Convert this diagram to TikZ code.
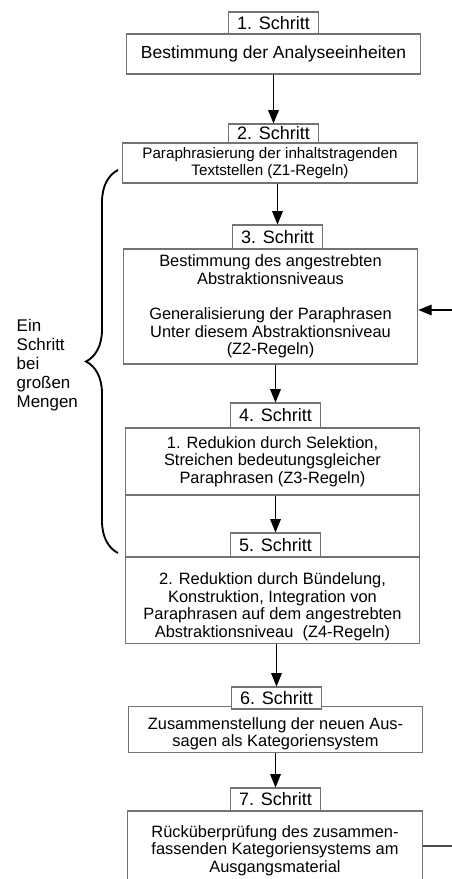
\documentclass[tikz,border=0pt]{standalone}
\usepackage{fontspec}
\setmainfont{Liberation Sans}
\usetikzlibrary{arrows.meta,decorations.pathreplacing}

\begin{document}
\begin{tikzpicture}[x=0.75pt, y=-0.75pt,
  every node/.style={font=\fontsize{12.3}{13.2}\selectfont},
  stepbox/.style={draw=black!55, line width=0.8pt, fill=white, rectangle, minimum width=68pt, inner sep=0pt, font=\fontsize{13.5}{15}\selectfont},
  contentbox/.style={draw=black!55, line width=0.8pt, rectangle, minimum width=221pt, align=center, inner sep=2pt},
  flow/.style={-{Triangle[length=10pt, width=8pt]}, line width=0.8pt}]
\useasboundingbox (0,0) rectangle (451,879);

% Boxes - vertical flow
\node[contentbox, minimum height=30pt, font=\fontsize{13.1}{14}\selectfont] (b1) at (273.5,54) {Bestimmung der Analyseeinheiten};
\node[contentbox, minimum height=30pt, font=\fontsize{11.4}{12.8}\selectfont] (b2) at (270,163) {Paraphrasierung der inhaltstragenden\\Textstellen (Z1-Regeln)};
\node[contentbox, minimum height=86.25pt] (b3) at (270.5,306.5) {Bestimmung des angestrebten\\Abstraktionsniveaus\\[\baselineskip]Generalisierung der Paraphrasen\\Unter diesem Abstraktionsniveau\\(Z2-Regeln)};
\node[contentbox, minimum height=50.25pt] (b4) at (272.5,461.5) {1. Redukion durch Selektion,\\Streichen bedeutungsgleicher\\Paraphrasen (Z3-Regeln)};
\node[contentbox, minimum height=46.5pt] (gap) at (272.5,526) {};
\node[contentbox, minimum height=64.5pt] (b5) at (272.5,600) {\rule{0pt}{19pt}2. Reduktion durch Bündelung,\\Konstruktion, Integration von\\Paraphrasen auf dem angestrebten\\Abstraktionsniveau~ (Z4-Regeln)};
\node[contentbox, minimum height=30.75pt] (b6) at (275.5,729.5) {\rule{0pt}{15pt}Zusammenstellung der neuen Aus-\\sagen als Kategoriensystem};
\node[contentbox, minimum height=59.25pt] (b7) at (275,850.5) {Rücküberprüfung des zusammen-\\fassenden Kategoriensystems am\\Ausgangsmaterial};

% Step labels
\node[stepbox, minimum height=16.5pt] (s1) at (273.5,23) {1. Schritt};
\node[stepbox, minimum height=14.25pt] (s2) at (273.5,133.5) {2. Schritt};
\node[stepbox, minimum height=18pt] (s3) at (277.5,237) {3. Schritt};
\node[stepbox, minimum height=18.75pt] (s4) at (275.5,415.5) {4. Schritt};
\node[stepbox, minimum height=18pt] (s5) at (275.5,545) {5. Schritt};
\node[stepbox, minimum height=16.5pt] (s6) at (276.5,698) {6. Schritt};
\node[stepbox, minimum height=17.25pt] (s7) at (275.5,799.5) {7. Schritt};

% Arrows
\draw[flow] (b1.south -| s2) -- (s2.north);
\draw[flow] (b2.south -| s3) -- (s3.north);
\draw[flow] (b3.south -| s4) -- (s4.north);
\draw[flow] (b4.south -| s5) -- (s5.north);
\draw[flow] (b5.south -| s6) -- (s6.north);
\draw[flow] (b6.south -| s7) -- (s7.north);

% Feedback loop, right edge
\coordinate (feedin) at (455,310);
\coordinate (feedout) at (455,846);
\draw[flow] (feedin) -- (feedin -| b3.east);
\draw[line width=0.8pt, black!70] (b7.east |- feedout) -- (feedout);

% Brace for steps 2 to 5
\draw[decorate, decoration={brace, amplitude=24pt}, line width=1.4pt] (118,553) -- (118,170);
\node[anchor=west, align=left, font=\fontsize{12.7}{14.2}\selectfont] (note) at (12,365) {Ein\\Schritt\\bei\\großen\\Mengen};
\end{tikzpicture}
\end{document}
